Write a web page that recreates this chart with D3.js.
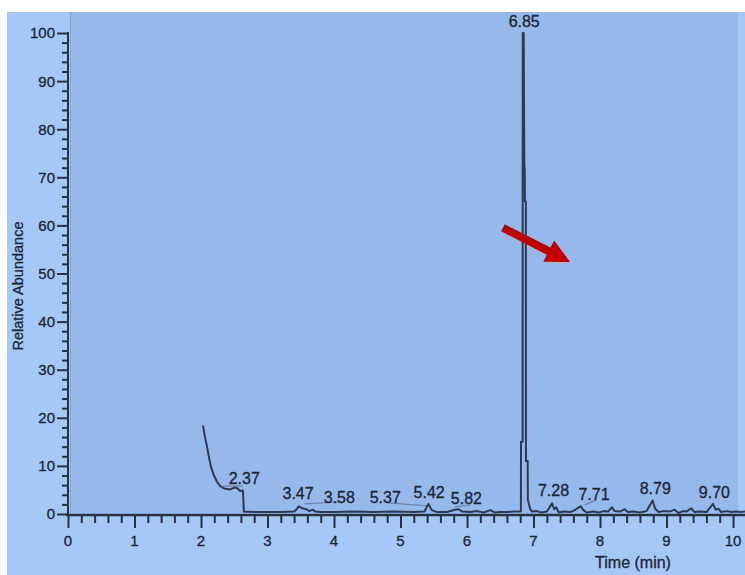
<!DOCTYPE html>
<html>
<head>
<meta charset="utf-8">
<script src="https://cdn.jsdelivr.net/npm/d3@7"></script>
<style>
  html, body { margin: 0; padding: 0; background: #ffffff; }
  svg { display: block; }
  text { font-family: "Liberation Sans", Arial, sans-serif; fill: #1c2533; stroke: #1c2533; stroke-width: 0.3px; }
</style>
</head>
<body>
<div id="chart"></div>
<script>
// ---- data ----
const times = [2.03,2.06,2.09,2.12,2.15,2.19,2.24,2.29,2.35,2.44,2.50,2.54,2.59,2.63,2.645,
  2.80,3.00,3.20,3.40,3.44,3.47,3.52,3.58,3.63,3.68,3.72,3.80,4.00,4.30,4.60,4.90,5.20,5.36,
  5.42,5.47,5.55,5.70,5.82,5.87,5.93,6.05,6.15,6.25,6.35,6.42,6.50,6.60,6.70,6.80,
  6.81,6.812,6.836,6.838,6.852,6.862,6.868,6.87,6.884,6.886,6.912,6.915,6.95,6.98,
  7.05,7.12,7.20,7.28,7.31,7.34,7.38,7.45,7.55,7.62,7.67,7.71,7.75,7.80,7.90,7.98,
  8.05,8.12,8.18,8.22,8.30,8.37,8.42,8.50,8.60,8.70,8.79,8.83,8.88,8.95,
  9.05,9.12,9.18,9.25,9.30,9.37,9.42,9.50,9.60,9.70,9.74,9.78,9.82,9.90,9.98,10.05,10.12,10.18];
const abundance = [18.4,16,14,11.8,9.8,8.2,6.7,5.8,5.3,5.1,5.5,5.4,4.8,4.9,0.5,
  0.4,0.4,0.4,0.5,1.0,1.6,1.2,1.0,0.6,0.9,0.5,0.4,0.4,0.5,0.4,0.5,0.4,0.5,
  2.1,0.8,0.4,0.4,0.9,1.0,0.5,0.4,0.6,0.3,0.8,0.3,0.4,0.4,0.5,0.5,
  0.5,15,15,100,100,72,72,65,65,11,11,3,1.0,0.5,
  0.6,0.3,0.5,2.2,1.0,1.4,0.3,0.5,0.4,0.8,1.3,1.6,0.8,0.3,0.5,0.3,
  0.6,0.5,1.4,0.6,0.5,1.0,0.4,0.5,0.3,0.6,2.8,1.1,0.4,0.6,
  0.5,0.9,0.2,0.6,0.5,1.2,0.4,0.5,0.4,2.1,0.9,1.1,0.4,0.6,0.4,0.5,0.4,0.5];

const peakLabels  = ["6.85","2.37","3.47","3.58","5.37","5.42","5.82","7.28","7.71","8.79","9.70"];
const labelTimes  = [6.86, 2.65, 3.46, 4.08, 4.77, 5.43, 5.99, 7.30, 7.91, 8.83, 9.72];
const labelLevels = [102.5, 7.5, 4.4, 3.5, 3.5, 4.6, 3.3, 5.0, 4.2, 5.4, 4.6];

// leader lines: [fromTime, fromLevel, toTime, toLevel]
const leaderFromT = [2.33, 3.56, 4.81, 5.82, 7.77];
const leaderFromI = [5.8, 2.1, 2.3, 1.5, 1.9];
const leaderToT   = [2.63, 4.09, 5.40, 6.05, 7.94];
const leaderToI   = [5.8, 2.5, 1.7, 1.9, 2.9];

const xTicks = [0,1,2,3,4,5,6,7,8,9,10];
const yTicks = [0,10,20,30,40,50,60,70,80,90,100];

// arrow annotation (data units)
const arrowFrom = [6.54, 59.5];
const arrowTo   = [7.55, 52.4];

// ---- drawing ----
const W = 745, H = 575;
const svg = d3.select("#chart").append("svg").attr("width", W).attr("height", H);

// outer panel
svg.append("rect").attr("x", 7).attr("y", 12).attr("width", W - 7).attr("height", H - 12)
  .attr("fill", "#a4c8f8");

const x = d3.scaleLinear().domain([0, 10.18]).range([68, 745]);
const y = d3.scaleLinear().domain([0, 100]).range([514, 33]);

// plot area
svg.append("rect").attr("x", 70).attr("y", 12).attr("width", 668).attr("height", 501)
  .attr("fill", "#96b9ec");
svg.append("line").attr("x1", 70.5).attr("x2", 70.5).attr("y1", 12).attr("y2", 513)
  .attr("stroke", "#8aa0c4").attr("stroke-width", 1);

const inkColor = "#28323f";

// y axis
const yAxisG = svg.append("g").attr("transform", "translate(68,0)");
yAxisG.call(d3.axisLeft(y).tickValues(d3.range(0, 101, 2)).tickSize(6).tickFormat(""));
yAxisG.call(g => g.selectAll(".tick").filter(d => d % 10 === 0).select("line").attr("x2", -11));
yAxisG.selectAll(".tick line").attr("stroke", inkColor).attr("stroke-width", 2);
yAxisG.select(".domain").remove();
yAxisG.append("line").attr("x1", 0).attr("x2", 0).attr("y1", y(100) - 1).attr("y2", y(0) + 1)
  .attr("stroke", inkColor).attr("stroke-width", 2);
yAxisG.selectAll(".ylab").data(yTicks).enter().append("text")
  .attr("class", "ylab").attr("x", -13).attr("y", d => y(d)).attr("dy", "0.36em")
  .attr("text-anchor", "end").style("font-size", "15px").text(d => d);

// x axis
const xAxisG = svg.append("g").attr("transform", "translate(0,515)");
const minorX = d3.range(0, 51).map(i => i * 0.2);
xAxisG.call(d3.axisBottom(x).tickValues(minorX).tickSize(8).tickFormat(""));
xAxisG.call(g => g.selectAll(".tick").filter(d => Math.abs(d - Math.round(d)) < 1e-6).select("line").attr("y2", 13));
xAxisG.selectAll(".tick line").attr("stroke", inkColor).attr("stroke-width", 2);
xAxisG.select(".domain").remove();
xAxisG.append("line").attr("x1", 66).attr("x2", 745).attr("y1", 0).attr("y2", 0)
  .attr("stroke", inkColor).attr("stroke-width", 2.5);
xAxisG.selectAll(".xlab").data(xTicks).enter().append("text")
  .attr("class", "xlab").attr("x", d => x(d)).attr("y", 31)
  .attr("text-anchor", "middle").style("font-size", "15px").text(d => d);

// axis titles
svg.append("text").attr("x", 633).attr("y", 568).attr("text-anchor", "middle")
  .style("font-size", "16px").text("Time (min)");
svg.append("text").attr("transform", "translate(23,286) rotate(-90)").attr("text-anchor", "middle")
  .style("font-size", "14.5px").text("Relative Abundance");

// leader lines
const leaders = leaderFromT.map((t, i) => [t, leaderFromI[i], leaderToT[i], leaderToI[i]]);
svg.append("g").selectAll("line").data(leaders).enter().append("line")
  .attr("x1", d => x(d[0])).attr("y1", d => y(d[1]))
  .attr("x2", d => x(d[2])).attr("y2", d => y(d[3]))
  .attr("stroke", "#6f84a6").attr("stroke-width", 1.3);

// chromatogram trace
const pts = times.map((t, i) => [t, abundance[i]]);
svg.append("path").datum(pts)
  .attr("d", d3.line().x(d => x(d[0])).y(d => y(d[1])))
  .attr("fill", "none").attr("stroke", "#2d3a4e").attr("stroke-width", 2)
  .attr("stroke-linejoin", "round");

// peak labels
svg.append("g").selectAll("text").data(peakLabels).enter().append("text")
  .attr("x", (d, i) => x(labelTimes[i])).attr("y", (d, i) => y(labelLevels[i]))
  .attr("dy", "0.36em").attr("text-anchor", "middle").style("font-size", "16px")
  .text(d => d);

// red arrow
const ax0 = x(arrowFrom[0]), ay0 = y(arrowFrom[1]);
const ax1 = x(arrowTo[0]), ay1 = y(arrowTo[1]);
const ang = Math.atan2(ay1 - ay0, ax1 - ax0);
const headLen = 24, headHalf = 12, shaftHalf = 4;
const bx = ax1 - headLen * Math.cos(ang), by = ay1 - headLen * Math.sin(ang);
const nx = -Math.sin(ang), ny = Math.cos(ang);
const arrowPts = [
  [ax0 + nx * shaftHalf, ay0 + ny * shaftHalf],
  [bx + nx * shaftHalf, by + ny * shaftHalf],
  [bx + nx * headHalf, by + ny * headHalf],
  [ax1, ay1],
  [bx - nx * headHalf, by - ny * headHalf],
  [bx - nx * shaftHalf, by - ny * shaftHalf],
  [ax0 - nx * shaftHalf, ay0 - ny * shaftHalf]
];
svg.append("path").attr("d", d3.line()(arrowPts) + "Z").attr("fill", "#c00000");
</script>
</body>
</html>
